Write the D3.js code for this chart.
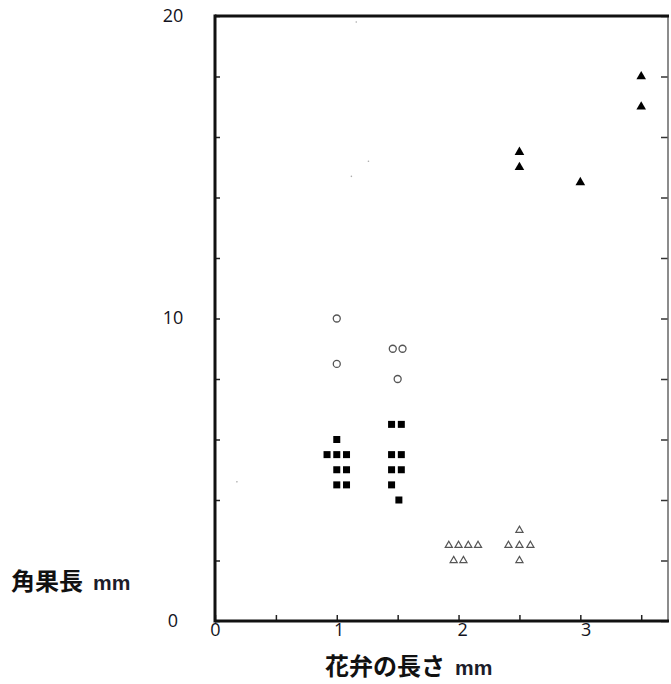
<!DOCTYPE html>
<html>
<head>
<meta charset="utf-8">
<script src="https://cdn.jsdelivr.net/npm/d3@7"></script>
<style>
    body { margin: 0; background: #fff; }
    .tick text { font-family: "Open Sans", sans-serif; font-size: 18px; fill: #121220; }
    .ttl { font-family: "Noto Sans CJK JP", sans-serif; font-weight: bold; font-size: 24px; fill: #111; }
    .ttl tspan.mm { font-family: "Liberation Sans", Arial, sans-serif; font-size: 21px; fill: #1c1c2a; }
</style>
</head>
<body>
<script>
// petal length (mm) vs silique length (mm)
var squaresX = [1.0, 0.92, 1.0, 1.08, 1.0, 1.08, 1.0, 1.08, 1.45, 1.53, 1.45, 1.53, 1.45, 1.53, 1.45, 1.51];
var squaresY = [6.0, 5.5, 5.5, 5.5, 5.0, 5.0, 4.5, 4.5, 6.5, 6.5, 5.5, 5.5, 5.0, 5.0, 4.5, 4.0];

var circlesX = [1.0, 1.0, 1.46, 1.54, 1.5];
var circlesY = [10.0, 8.5, 9.0, 9.0, 8.0];

var openTriX = [1.92, 2.0, 2.08, 2.16, 1.96, 2.04, 2.5, 2.41, 2.5, 2.59, 2.5];
var openTriY = [2.5, 2.5, 2.5, 2.5, 2.0, 2.0, 3.0, 2.5, 2.5, 2.5, 2.0];

var fillTriX = [2.5, 2.5, 3.0, 3.5, 3.5];
var fillTriY = [15.5, 15.0, 14.5, 18.0, 17.0];

// faint specks in the scan
var specksX = [1.16, 1.26, 1.12, 0.18];
var specksY = [19.8, 15.2, 14.7, 4.6];

var xMinor = [0, 0.5, 1, 1.5, 2, 2.5, 3, 3.5];
var xLabels = [0, 1, 2, 3];
var yMinor = d3.range(0, 21, 2);
var yLabels = [0, 10, 20];

var xTitle = "花弁の長さ";
var yTitle = "角果長";
var unit = "mm";

var width = 671, height = 684;
var plotLeft = 215, plotRight = 668, plotTop = 16, plotBottom = 621;

var svg = d3.select("body").append("svg")
    .attr("width", width)
    .attr("height", height);

var x = d3.scaleLinear().domain([0, 3.72]).range([plotLeft, plotRight]);
var y = d3.scaleLinear().domain([0, 20]).range([plotBottom, plotTop]);

// minor ticks (inside)
svg.append("g")
    .attr("transform", "translate(0," + plotBottom + ")")
    .call(d3.axisBottom(x).tickValues(xMinor).tickSize(-6).tickFormat(""))
    .call(function (g) { g.select(".domain").remove(); })
    .selectAll("line").style("stroke", "#222").style("stroke-width", 1.5);

svg.append("g")
    .attr("transform", "translate(" + plotLeft + ",0)")
    .call(d3.axisLeft(y).tickValues(yMinor).tickSize(-5).tickFormat(""))
    .call(function (g) { g.select(".domain").remove(); })
    .selectAll("line").style("stroke", "#222").style("stroke-width", 1.5);

svg.append("g")
    .attr("transform", "translate(" + plotRight + ",0)")
    .call(d3.axisRight(y).tickValues(yMinor).tickSize(-7).tickFormat(""))
    .call(function (g) { g.select(".domain").remove(); })
    .selectAll("line").style("stroke", "#333").style("stroke-width", 1.5);

// tick labels
svg.append("g")
    .attr("transform", "translate(0," + plotBottom + ")")
    .call(d3.axisBottom(x).tickValues(xLabels).tickSize(0).tickPadding(2).tickFormat(d3.format("d")))
    .call(function (g) { g.select(".domain").remove(); })
    .selectAll("text")
    .attr("dx", function (d) { return d * 1.8; });

svg.append("g")
    .attr("transform", "translate(" + plotLeft + ",0)")
    .call(d3.axisLeft(y).tickValues(yLabels).tickSize(0).tickFormat(d3.format("d")))
    .call(function (g) { g.select(".domain").remove(); })
    .selectAll("text")
    .attr("x", -42)
    .attr("dy", "0.3em")
    .style("text-anchor", "middle");

// frame
svg.append("line")
    .attr("x1", plotRight).attr("y1", plotTop)
    .attr("x2", plotRight).attr("y2", plotBottom)
    .style("stroke", "#666").style("stroke-width", 1.5);
svg.append("line")
    .attr("x1", plotLeft).attr("y1", plotTop)
    .attr("x2", plotRight + 1).attr("y2", plotTop)
    .style("stroke", "#111").style("stroke-width", 3);
svg.append("line")
    .attr("x1", plotLeft).attr("y1", plotTop - 1.5)
    .attr("x2", plotLeft).attr("y2", plotBottom + 1.5)
    .style("stroke", "#111").style("stroke-width", 3);
svg.append("line")
    .attr("x1", plotLeft).attr("y1", plotBottom)
    .attr("x2", plotRight + 1).attr("y2", plotBottom)
    .style("stroke", "#111").style("stroke-width", 3);

// points
var pts = function (xs, ys) {
    return xs.map(function (v, i) { return [v, ys[i]]; });
};

svg.append("g").selectAll("circle")
    .data(pts(specksX, specksY))
    .enter().append("circle")
    .attr("cx", function (d) { return x(d[0]); })
    .attr("cy", function (d) { return y(d[1]); })
    .attr("r", 0.8)
    .style("fill", "#aaa");

svg.append("g").selectAll("rect")
    .data(pts(squaresX, squaresY))
    .enter().append("rect")
    .attr("x", function (d) { return x(d[0]) - 3.5; })
    .attr("y", function (d) { return y(d[1]) - 3.5; })
    .attr("width", 7)
    .attr("height", 7)
    .style("fill", "#000");

svg.append("g").selectAll("circle")
    .data(pts(circlesX, circlesY))
    .enter().append("circle")
    .attr("cx", function (d) { return x(d[0]); })
    .attr("cy", function (d) { return y(d[1]); })
    .attr("r", 3.5)
    .style("fill", "none")
    .style("stroke", "#555")
    .style("stroke-width", 1.3);

var tri = d3.symbol().type(d3.symbolTriangle);

svg.append("g").selectAll("path")
    .data(pts(openTriX, openTriY))
    .enter().append("path")
    .attr("d", tri.size(22))
    .attr("transform", function (d) { return "translate(" + x(d[0]) + "," + y(d[1]) + ")"; })
    .style("fill", "none")
    .style("stroke", "#555")
    .style("stroke-width", 1.2);

svg.append("g").selectAll("path")
    .data(pts(fillTriX, fillTriY))
    .enter().append("path")
    .attr("d", tri.size(40))
    .attr("transform", function (d) { return "translate(" + x(d[0]) + "," + y(d[1]) + ")"; })
    .style("fill", "#000");

// titles
var yt = svg.append("text").attr("class", "ttl")
    .attr("x", 11).attr("y", 590);
yt.append("tspan").text(yTitle);
yt.append("tspan").attr("class", "mm").attr("dx", 10).text(unit);

var xt = svg.append("text").attr("class", "ttl")
    .attr("x", 325).attr("y", 675);
xt.append("tspan").text(xTitle);
xt.append("tspan").attr("class", "mm").attr("dx", 10).text(unit);
</script>
</body>
</html>
